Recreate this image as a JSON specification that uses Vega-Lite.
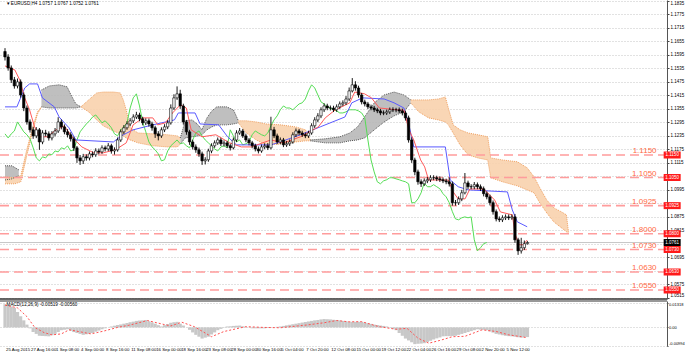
{
"$schema":"https://vega.github.io/schema/vega-lite/v6.json",
"autosize":{"type":"none"},
"padding":{"left":0,"top":0,"right":18,"bottom":11},
"background":"#ffffff",
"width":667,"height":346,
"resolve":{"scale":{"y":"independent"},"axis":{"y":"independent"}},
"config":{
 "view":{"stroke":null},
 "axis":{"labelFont":"Liberation Sans","labelFontSize":4.5,"labelColor":"#000000","title":null,"gridColor":"#c4c4c4","gridDash":[1,2],"gridWidth":1,"domainColor":"#444444","tickColor":"#444444","tickSize":2,"labelPadding":1,"labelOverlap":false,"labelBound":false}
},
"datasets":{
"bars":[
{"b":0,"o":1.161,"h":1.1625,"l":1.157,"c":1.1586,"g":1.1244,"m":0.0125},
{"b":2,"o":1.1586,"h":1.1598,"l":1.1525,"c":1.1537,"g":1.1226,"m":0.0118},
{"b":4,"o":1.1537,"h":1.1548,"l":1.147,"c":1.1484,"g":1.1244,"m":0.0112},
{"b":6,"o":1.1484,"h":1.1497,"l":1.1445,"c":1.1457,"g":1.1257,"m":0.0105},
{"b":8,"o":1.1457,"h":1.149,"l":1.1446,"c":1.1475,"g":1.1297,"m":0.0083},
{"b":10,"o":1.1475,"h":1.1486,"l":1.1405,"c":1.1417,"g":1.1275,"m":0.006},
{"b":12,"o":1.1417,"h":1.1428,"l":1.1345,"c":1.1359,"g":1.1253,"m":0.0038},
{"b":14,"o":1.1359,"h":1.137,"l":1.1285,"c":1.1297,"g":1.124,"m":0.0015},
{"b":16,"o":1.1297,"h":1.1308,"l":1.125,"c":1.1262,"g":1.1222,"m":-0.0005},
{"b":18,"o":1.1262,"h":1.1275,"l":1.1222,"c":1.1235,"g":1.1182,"m":-0.0025},
{"b":20,"o":1.1235,"h":1.1274,"l":1.1225,"c":1.1262,"g":1.1137,"m":-0.0035},
{"b":22,"o":1.1262,"h":1.127,"l":1.1173,"c":1.1208,"g":1.1124,"m":-0.0045},
{"b":24,"o":1.1208,"h":1.126,"l":1.1198,"c":1.1248,"g":1.1142,"m":-0.0046},
{"b":26,"o":1.1248,"h":1.1262,"l":1.1232,"c":1.1244,"g":1.1137,"m":-0.0047},
{"b":28,"o":1.1244,"h":1.1255,"l":1.1214,"c":1.1226,"g":1.1155,"m":-0.0048},
{"b":30,"o":1.1226,"h":1.1256,"l":1.1215,"c":1.1244,"g":1.1151,"m":-0.0042},
{"b":32,"o":1.1244,"h":1.127,"l":1.1233,"c":1.1257,"g":1.1168,"m":-0.0035},
{"b":34,"o":1.1257,"h":1.1318,"l":1.1248,"c":1.1297,"g":1.1164,"m":-0.0025},
{"b":36,"o":1.1297,"h":1.1308,"l":1.1264,"c":1.1275,"g":1.1182,"m":-0.0015},
{"b":38,"o":1.1275,"h":1.1286,"l":1.1242,"c":1.1253,"g":1.1177,"m":-0.0012},
{"b":40,"o":1.1253,"h":1.1265,"l":1.1228,"c":1.124,"g":1.1191,"m":-0.001},
{"b":42,"o":1.124,"h":1.1251,"l":1.121,"c":1.1222,"g":1.1168,"m":-0.0018},
{"b":44,"o":1.1222,"h":1.1232,"l":1.1168,"c":1.1182,"g":1.1173,"m":-0.0025},
{"b":46,"o":1.1182,"h":1.119,"l":1.1115,"c":1.1137,"g":1.1217,"m":-0.003},
{"b":48,"o":1.1137,"h":1.115,"l":1.1106,"c":1.1124,"g":1.1253,"m":-0.0035},
{"b":50,"o":1.1124,"h":1.1155,"l":1.111,"c":1.1142,"g":1.1271,"m":-0.004},
{"b":52,"o":1.1142,"h":1.1153,"l":1.1125,"c":1.1137,"g":1.1288,"m":-0.0037},
{"b":54,"o":1.1137,"h":1.1166,"l":1.1126,"c":1.1155,"g":1.1302,"m":-0.0033},
{"b":56,"o":1.1155,"h":1.1166,"l":1.114,"c":1.1151,"g":1.1319,"m":-0.003},
{"b":58,"o":1.1151,"h":1.118,"l":1.1142,"c":1.1168,"g":1.1328,"m":-0.0023},
{"b":60,"o":1.1168,"h":1.1179,"l":1.1153,"c":1.1164,"g":1.1311,"m":-0.0017},
{"b":62,"o":1.1164,"h":1.1193,"l":1.1155,"c":1.1182,"g":1.1293,"m":-0.001},
{"b":64,"o":1.1182,"h":1.1192,"l":1.1166,"c":1.1177,"g":1.1302,"m":-0.0005},
{"b":66,"o":1.1177,"h":1.1203,"l":1.1167,"c":1.1191,"g":1.1288,"m":0},
{"b":68,"o":1.1191,"h":1.12,"l":1.1156,"c":1.1168,"g":1.1271,"m":0.0005},
{"b":70,"o":1.1168,"h":1.1184,"l":1.1152,"c":1.1173,"g":1.1244,"m":0.0009},
{"b":72,"o":1.1173,"h":1.1228,"l":1.1165,"c":1.1217,"g":1.1235,"m":0.0013},
{"b":74,"o":1.1217,"h":1.1264,"l":1.1208,"c":1.1253,"g":1.1262,"m":0.0016},
{"b":76,"o":1.1253,"h":1.1283,"l":1.1243,"c":1.1271,"g":1.1275,"m":0.002},
{"b":78,"o":1.1271,"h":1.13,"l":1.1262,"c":1.1288,"g":1.1293,"m":0.0024},
{"b":80,"o":1.1288,"h":1.1314,"l":1.1278,"c":1.1302,"g":1.1359,"m":0.0028},
{"b":82,"o":1.1302,"h":1.1331,"l":1.1292,"c":1.1319,"g":1.1404,"m":0.0031},
{"b":84,"o":1.1319,"h":1.1342,"l":1.131,"c":1.1328,"g":1.1422,"m":0.0035},
{"b":86,"o":1.1328,"h":1.1338,"l":1.13,"c":1.1311,"g":1.1368,"m":0.0037},
{"b":88,"o":1.1311,"h":1.132,"l":1.1282,"c":1.1293,"g":1.1297,"m":0.0038},
{"b":90,"o":1.1293,"h":1.1313,"l":1.1283,"c":1.1302,"g":1.1253,"m":0.004},
{"b":92,"o":1.1302,"h":1.1312,"l":1.1276,"c":1.1288,"g":1.1208,"m":0.0033},
{"b":94,"o":1.1288,"h":1.1298,"l":1.1258,"c":1.1271,"g":1.1186,"m":0.0027},
{"b":96,"o":1.1271,"h":1.128,"l":1.1226,"c":1.1244,"g":1.1173,"m":0.002},
{"b":98,"o":1.1244,"h":1.1256,"l":1.1215,"c":1.1235,"g":1.1155,"m":0.0012},
{"b":100,"o":1.1235,"h":1.1273,"l":1.1226,"c":1.1262,"g":1.1124,"m":0.0005},
{"b":102,"o":1.1262,"h":1.1287,"l":1.1252,"c":1.1275,"g":1.1129,"m":0.0012},
{"b":104,"o":1.1275,"h":1.1305,"l":1.1265,"c":1.1293,"g":1.1168,"m":0.0018},
{"b":106,"o":1.1293,"h":1.1375,"l":1.1285,"c":1.1359,"g":1.1191,"m":0.0025},
{"b":108,"o":1.1359,"h":1.142,"l":1.135,"c":1.1404,"g":1.1204,"m":0.0028},
{"b":110,"o":1.1404,"h":1.1455,"l":1.1395,"c":1.1422,"g":1.1217,"m":0.003},
{"b":112,"o":1.1422,"h":1.144,"l":1.1355,"c":1.1368,"g":1.12,"m":0.002},
{"b":114,"o":1.1368,"h":1.1378,"l":1.1285,"c":1.1297,"g":1.1204,"m":0.001},
{"b":116,"o":1.1297,"h":1.1306,"l":1.124,"c":1.1253,"g":1.1191,"m":0},
{"b":118,"o":1.1253,"h":1.1262,"l":1.1195,"c":1.1208,"g":1.1182,"m":-0.0013},
{"b":120,"o":1.1208,"h":1.1218,"l":1.1175,"c":1.1186,"g":1.1217,"m":-0.0027},
{"b":122,"o":1.1186,"h":1.1197,"l":1.116,"c":1.1173,"g":1.1248,"m":-0.004},
{"b":124,"o":1.1173,"h":1.1183,"l":1.1142,"c":1.1155,"g":1.1257,"m":-0.005},
{"b":126,"o":1.1155,"h":1.1165,"l":1.1106,"c":1.1124,"g":1.1235,"m":-0.006},
{"b":128,"o":1.1124,"h":1.114,"l":1.1108,"c":1.1129,"g":1.1217,"m":-0.0055},
{"b":130,"o":1.1129,"h":1.1178,"l":1.112,"c":1.1168,"g":1.1204,"m":-0.005},
{"b":132,"o":1.1168,"h":1.1202,"l":1.1158,"c":1.1191,"g":1.1191,"m":-0.0038},
{"b":134,"o":1.1191,"h":1.1215,"l":1.1182,"c":1.1204,"g":1.1177,"m":-0.0027},
{"b":136,"o":1.1204,"h":1.1228,"l":1.1195,"c":1.1217,"g":1.1168,"m":-0.0015},
{"b":138,"o":1.1217,"h":1.1226,"l":1.119,"c":1.12,"g":1.1186,"m":-0.0008},
{"b":140,"o":1.12,"h":1.1215,"l":1.1188,"c":1.1204,"g":1.1191,"m":-0.0002},
{"b":142,"o":1.1204,"h":1.1213,"l":1.1181,"c":1.1191,"g":1.1182,"m":0.0005},
{"b":144,"o":1.1191,"h":1.12,"l":1.117,"c":1.1182,"g":1.1262,"m":0.0006},
{"b":146,"o":1.1182,"h":1.1228,"l":1.1175,"c":1.1217,"g":1.1235,"m":0.0008},
{"b":148,"o":1.1217,"h":1.126,"l":1.1208,"c":1.1248,"g":1.1208,"m":0.0009},
{"b":150,"o":1.1248,"h":1.127,"l":1.124,"c":1.1257,"g":1.1217,"m":0.001},
{"b":152,"o":1.1257,"h":1.1266,"l":1.1226,"c":1.1235,"g":1.1195,"m":0.0006},
{"b":154,"o":1.1235,"h":1.1245,"l":1.1207,"c":1.1217,"g":1.12,"m":0.0002},
{"b":156,"o":1.1217,"h":1.1226,"l":1.1193,"c":1.1204,"g":1.1208,"m":-0.0001},
{"b":158,"o":1.1204,"h":1.1213,"l":1.118,"c":1.1191,"g":1.124,"m":-0.0005},
{"b":160,"o":1.1191,"h":1.12,"l":1.1166,"c":1.1177,"g":1.1257,"m":-0.0005},
{"b":162,"o":1.1177,"h":1.1188,"l":1.1157,"c":1.1168,"g":1.1248,"m":-0.0005},
{"b":164,"o":1.1168,"h":1.1197,"l":1.116,"c":1.1186,"g":1.124,"m":-0.0005},
{"b":166,"o":1.1186,"h":1.1202,"l":1.1176,"c":1.1191,"g":1.1235,"m":-0.0005},
{"b":168,"o":1.1191,"h":1.1203,"l":1.1172,"c":1.1182,"g":1.1248,"m":-0.0003},
{"b":170,"o":1.1182,"h":1.132,"l":1.1175,"c":1.1262,"g":1.128,"m":-0.0001},
{"b":172,"o":1.1262,"h":1.1275,"l":1.1225,"c":1.1235,"g":1.1306,"m":0.0001},
{"b":174,"o":1.1235,"h":1.1245,"l":1.1198,"c":1.1208,"g":1.1324,"m":0.0003},
{"b":176,"o":1.1208,"h":1.1228,"l":1.1198,"c":1.1217,"g":1.1351,"m":0.0005},
{"b":178,"o":1.1217,"h":1.1226,"l":1.1185,"c":1.1195,"g":1.1368,"m":0.0008},
{"b":180,"o":1.1195,"h":1.1212,"l":1.1186,"c":1.12,"g":1.1359,"m":0.0011},
{"b":182,"o":1.12,"h":1.1219,"l":1.119,"c":1.1208,"g":1.1359,"m":0.0014},
{"b":184,"o":1.1208,"h":1.1251,"l":1.12,"c":1.124,"g":1.1351,"m":0.0017},
{"b":186,"o":1.124,"h":1.1268,"l":1.123,"c":1.1257,"g":1.1364,"m":0.002},
{"b":188,"o":1.1257,"h":1.1266,"l":1.1238,"c":1.1248,"g":1.1377,"m":0.0023},
{"b":190,"o":1.1248,"h":1.1258,"l":1.123,"c":1.124,"g":1.1382,"m":0.0026},
{"b":192,"o":1.124,"h":1.125,"l":1.1225,"c":1.1235,"g":1.1399,"m":0.0029},
{"b":194,"o":1.1235,"h":1.1258,"l":1.1226,"c":1.1248,"g":1.1435,"m":0.0032},
{"b":196,"o":1.1248,"h":1.1291,"l":1.124,"c":1.128,"g":1.1462,"m":0.0035},
{"b":198,"o":1.128,"h":1.1318,"l":1.127,"c":1.1306,"g":1.1448,"m":0.0038},
{"b":200,"o":1.1306,"h":1.1336,"l":1.1296,"c":1.1324,"g":1.1417,"m":0.004},
{"b":202,"o":1.1324,"h":1.1362,"l":1.1314,"c":1.1351,"g":1.1386,"m":0.0043},
{"b":204,"o":1.1351,"h":1.138,"l":1.1341,"c":1.1368,"g":1.1377,"m":0.0045},
{"b":206,"o":1.1368,"h":1.1378,"l":1.1349,"c":1.1359,"g":1.1364,"m":0.0044},
{"b":208,"o":1.1359,"h":1.137,"l":1.1348,"c":1.1359,"g":1.1359,"m":0.0043},
{"b":210,"o":1.1359,"h":1.1369,"l":1.1341,"c":1.1351,"g":1.1351,"m":0.0041},
{"b":212,"o":1.1351,"h":1.1375,"l":1.1342,"c":1.1364,"g":1.1346,"m":0.004},
{"b":214,"o":1.1364,"h":1.1388,"l":1.1355,"c":1.1377,"g":1.1337,"m":0.0038},
{"b":216,"o":1.1377,"h":1.1393,"l":1.1367,"c":1.1382,"g":1.1337,"m":0.0035},
{"b":218,"o":1.1382,"h":1.1412,"l":1.1372,"c":1.1399,"g":1.1342,"m":0.0033},
{"b":220,"o":1.1399,"h":1.145,"l":1.139,"c":1.1435,"g":1.1351,"m":0.003},
{"b":222,"o":1.1435,"h":1.1492,"l":1.1428,"c":1.1462,"g":1.1351,"m":0.003},
{"b":224,"o":1.1462,"h":1.1478,"l":1.1436,"c":1.1448,"g":1.1351,"m":0.003},
{"b":226,"o":1.1448,"h":1.1458,"l":1.1405,"c":1.1417,"g":1.1346,"m":0.003},
{"b":228,"o":1.1417,"h":1.1426,"l":1.1375,"c":1.1386,"g":1.1337,"m":0.003},
{"b":230,"o":1.1386,"h":1.1396,"l":1.1366,"c":1.1377,"g":1.1315,"m":0.0026},
{"b":232,"o":1.1377,"h":1.1386,"l":1.1354,"c":1.1364,"g":1.1217,"m":0.0023},
{"b":234,"o":1.1364,"h":1.1374,"l":1.1349,"c":1.1359,"g":1.1128,"m":0.0019},
{"b":236,"o":1.1359,"h":1.1368,"l":1.1341,"c":1.1351,"g":1.1075,"m":0.0015},
{"b":238,"o":1.1351,"h":1.136,"l":1.1336,"c":1.1346,"g":1.1031,"m":0.0013},
{"b":240,"o":1.1346,"h":1.1355,"l":1.1327,"c":1.1337,"g":1.1022,"m":0.001},
{"b":242,"o":1.1337,"h":1.1348,"l":1.1327,"c":1.1337,"g":1.1035,"m":0.0008},
{"b":244,"o":1.1337,"h":1.1352,"l":1.1328,"c":1.1342,"g":1.104,"m":0.0005},
{"b":246,"o":1.1342,"h":1.1361,"l":1.1332,"c":1.1351,"g":1.1049,"m":-0.0002},
{"b":248,"o":1.1351,"h":1.1362,"l":1.1341,"c":1.1351,"g":1.1049,"m":-0.0008},
{"b":250,"o":1.1351,"h":1.136,"l":1.134,"c":1.1351,"g":1.1044,"m":-0.0015},
{"b":252,"o":1.1351,"h":1.1361,"l":1.1336,"c":1.1346,"g":1.104,"m":-0.003},
{"b":254,"o":1.1346,"h":1.1356,"l":1.1326,"c":1.1337,"g":1.1035,"m":-0.0045},
{"b":256,"o":1.1337,"h":1.1347,"l":1.1303,"c":1.1315,"g":1.1031,"m":-0.006},
{"b":258,"o":1.1315,"h":1.1325,"l":1.1205,"c":1.1217,"g":1.1022,"m":-0.007},
{"b":260,"o":1.1217,"h":1.1228,"l":1.1115,"c":1.1128,"g":1.0938,"m":-0.008},
{"b":262,"o":1.1128,"h":1.1138,"l":1.106,"c":1.1075,"g":1.0938,"m":-0.009},
{"b":264,"o":1.1075,"h":1.1085,"l":1.1018,"c":1.1031,"g":1.0955,"m":-0.0088},
{"b":266,"o":1.1031,"h":1.1042,"l":1.1008,"c":1.1022,"g":1.0982,"m":-0.0087},
{"b":268,"o":1.1022,"h":1.1046,"l":1.1012,"c":1.1035,"g":1.1026,"m":-0.0085},
{"b":270,"o":1.1035,"h":1.1052,"l":1.1025,"c":1.104,"g":1.1009,"m":-0.0078},
{"b":272,"o":1.104,"h":1.106,"l":1.103,"c":1.1049,"g":1.1009,"m":-0.0072},
{"b":274,"o":1.1049,"h":1.106,"l":1.1038,"c":1.1049,"g":1.1018,"m":-0.0065},
{"b":276,"o":1.1049,"h":1.1058,"l":1.1034,"c":1.1044,"g":1.1009,"m":-0.0059},
{"b":278,"o":1.1044,"h":1.1055,"l":1.103,"c":1.104,"g":1.1,"m":-0.0054},
{"b":280,"o":1.104,"h":1.105,"l":1.1025,"c":1.1035,"g":1.0978,"m":-0.0048},
{"b":282,"o":1.1035,"h":1.1045,"l":1.102,"c":1.1031,"g":1.0964,"m":-0.0047},
{"b":284,"o":1.1031,"h":1.105,"l":1.101,"c":1.1022,"g":1.0938,"m":-0.0047},
{"b":286,"o":1.1022,"h":1.1032,"l":1.0925,"c":1.0938,"g":1.0898,"m":-0.0046},
{"b":288,"o":1.0938,"h":1.095,"l":1.0925,"c":1.0938,"g":1.0866,"m":-0.0045},
{"b":290,"o":1.0938,"h":1.0966,"l":1.0928,"c":1.0955,"g":1.0862,"m":-0.004},
{"b":292,"o":1.0955,"h":1.0995,"l":1.0945,"c":1.0982,"g":1.0871,"m":-0.0035},
{"b":294,"o":1.0982,"h":1.107,"l":1.0975,"c":1.1026,"g":1.0875,"m":-0.003},
{"b":296,"o":1.1026,"h":1.1036,"l":1.0998,"c":1.1009,"g":1.0871,"m":-0.0025},
{"b":298,"o":1.1009,"h":1.102,"l":1.0998,"c":1.1009,"g":1.0875,"m":-0.002},
{"b":300,"o":1.1009,"h":1.103,"l":1.0998,"c":1.1018,"g":1.0773,"m":-0.0015},
{"b":302,"o":1.1018,"h":1.1028,"l":1.0998,"c":1.1009,"g":1.0724,"m":-0.001},
{"b":304,"o":1.1009,"h":1.1019,"l":1.099,"c":1.1,"g":1.0738,"m":-0.0012},
{"b":306,"o":1.1,"h":1.101,"l":1.0966,"c":1.0978,"g":1.0756,"m":-0.0013},
{"b":308,"o":1.0978,"h":1.0988,"l":1.0953,"c":1.0964,"g":1.0761,"m":-0.0015},
{"b":310,"o":1.0964,"h":1.0974,"l":1.0926,"c":1.0938,"m":-0.0022},
{"b":312,"o":1.0938,"h":1.0948,"l":1.0885,"c":1.0898,"m":-0.0028},
{"b":314,"o":1.0898,"h":1.0908,"l":1.0855,"c":1.0866,"m":-0.0035},
{"b":316,"o":1.0866,"h":1.0877,"l":1.0852,"c":1.0862,"m":-0.0038},
{"b":318,"o":1.0862,"h":1.0882,"l":1.0852,"c":1.0871,"m":-0.0042},
{"b":320,"o":1.0871,"h":1.0886,"l":1.0861,"c":1.0875,"m":-0.0045},
{"b":322,"o":1.0875,"h":1.0886,"l":1.0861,"c":1.0871,"m":-0.0047},
{"b":324,"o":1.0871,"h":1.0886,"l":1.0862,"c":1.0875,"m":-0.0048},
{"b":326,"o":1.0875,"h":1.0888,"l":1.076,"c":1.0773,"m":-0.005},
{"b":328,"o":1.0773,"h":1.0782,"l":1.0706,"c":1.0724,"m":-0.0053},
{"b":330,"o":1.0724,"h":1.0782,"l":1.0712,"c":1.0738,"m":-0.0055},
{"b":332,"o":1.0738,"h":1.077,"l":1.0728,"c":1.0756,"m":-0.0053},
{"b":334,"o":1.0756,"h":1.0767,"l":1.0752,"c":1.0761,"m":-0.0052}
],
"tk":[
{"b":0,"v":1.1546},{"b":6.3,"v":1.1528},{"b":9.4,"v":1.1484},{"b":12.6,"v":1.1404},{"b":15.7,"v":1.1351},{"b":18.9,"v":1.1275},{"b":22,"v":1.1231},{"b":27.1,"v":1.1231},{"b":32.7,"v":1.1262},{"b":37.8,"v":1.1279},{"b":42.8,"v":1.1231},{"b":49.1,"v":1.1186},{"b":56.7,"v":1.116},{"b":63,"v":1.116},{"b":70.5,"v":1.1173},{"b":77.5,"v":1.1204},{"b":81.9,"v":1.1284},{"b":88.2,"v":1.1315},{"b":94.5,"v":1.1315},{"b":97.6,"v":1.1284},{"b":102.6,"v":1.1293},{"b":107.1,"v":1.1337},{"b":112.1,"v":1.1373},{"b":115.9,"v":1.1359},{"b":119,"v":1.1262},{"b":125.9,"v":1.1231},{"b":134.8,"v":1.124},{"b":143.6,"v":1.1204},{"b":151.1,"v":1.1186},{"b":157.4,"v":1.1186},{"b":170,"v":1.1217},{"b":178.2,"v":1.1204},{"b":188.9,"v":1.1231},{"b":200.3,"v":1.1275},{"b":204.7,"v":1.1315},{"b":211,"v":1.135},{"b":220.4,"v":1.1382},{"b":223.6,"v":1.143},{"b":229.8,"v":1.1422},{"b":234.3,"v":1.1404},{"b":239.3,"v":1.1359},{"b":251.9,"v":1.135},{"b":255,"v":1.135},{"b":258.2,"v":1.1262},{"b":261.3,"v":1.1217},{"b":265.7,"v":1.1128},{"b":268.3,"v":1.1097},{"b":270.8,"v":1.1039},{"b":283.4,"v":1.1039},{"b":286.5,"v":1.0986},{"b":289.7,"v":1.0955},{"b":294.1,"v":1.0955},{"b":297.2,"v":1.0999},{"b":306,"v":1.0999},{"b":309.8,"v":1.0973},{"b":313,"v":1.095},{"b":316.7,"v":1.0897},{"b":324.3,"v":1.0884},{"b":326.2,"v":1.0795},{"b":328.7,"v":1.0751},{"b":331.2,"v":1.0751},{"b":333.8,"v":1.0772}
],
"kj":[
{"b":0,"v":1.1364},{"b":7.6,"v":1.1364},{"b":12.6,"v":1.1448},{"b":15.7,"v":1.1466},{"b":20.8,"v":1.1466},{"b":23.9,"v":1.1404},{"b":31.5,"v":1.1364},{"b":34.6,"v":1.1319},{"b":40.9,"v":1.1271},{"b":45.3,"v":1.1217},{"b":69.3,"v":1.1208},{"b":74.3,"v":1.1235},{"b":81.9,"v":1.1262},{"b":94.5,"v":1.1284},{"b":108.3,"v":1.1306},{"b":110.8,"v":1.1337},{"b":121.5,"v":1.1337},{"b":124.7,"v":1.1288},{"b":136.6,"v":1.1284},{"b":142.3,"v":1.1231},{"b":148,"v":1.1195},{"b":170,"v":1.1195},{"b":179.5,"v":1.1217},{"b":188.9,"v":1.124},{"b":201.5,"v":1.1275},{"b":217.3,"v":1.1319},{"b":221.7,"v":1.1382},{"b":228.6,"v":1.1404},{"b":242.4,"v":1.1399},{"b":248.7,"v":1.1382},{"b":255,"v":1.1359},{"b":258.2,"v":1.1284},{"b":261.3,"v":1.1186},{"b":281.5,"v":1.1186},{"b":284.6,"v":1.1039},{"b":289.7,"v":1.1009},{"b":296,"v":1.0995},{"b":321.2,"v":1.0986},{"b":324.3,"v":1.0906},{"b":327.5,"v":1.0853},{"b":333.8,"v":1.0831}
],
"sg":[
{"b":0,"s":0.012},{"b":8,"s":0.0105},{"b":14,"s":0.0058},{"b":19,"s":0},{"b":25,"s":-0.0028},{"b":30,"s":-0.004},{"b":36,"s":-0.0035},{"b":41,"s":-0.0013},{"b":47,"s":-0.0022},{"b":55,"s":-0.0035},{"b":63,"s":-0.002},{"b":72,"s":0},{"b":80,"s":0.0013},{"b":91,"s":0.0037},{"b":102,"s":0.0015},{"b":106,"s":0.0008},{"b":113,"s":0.0028},{"b":121,"s":0.0004},{"b":132,"s":-0.005},{"b":140,"s":-0.0022},{"b":154,"s":0.0004},{"b":165,"s":0},{"b":176,"s":-0.0002},{"b":193,"s":0.0013},{"b":204,"s":0.0025},{"b":212,"s":0.0037},{"b":220,"s":0.003},{"b":228,"s":0.0031},{"b":239,"s":0.0004},{"b":250,"s":-0.001},{"b":257,"s":-0.0005},{"b":264,"s":-0.0058},{"b":271,"s":-0.0085},{"b":278,"s":-0.007},{"b":286,"s":-0.005},{"b":294,"s":-0.0048},{"b":305,"s":-0.0013},{"b":314,"s":-0.0022},{"b":322,"s":-0.004},{"b":330,"s":-0.005},{"b":334,"s":-0.0056}
],
"cloud":[
{"b":0,"t":1.1102,"u":1.1039,"s":1,"k":"k"},{"b":4.4,"t":1.1102,"u":1.1044,"s":1,"k":"k"},{"b":8.8,"t":1.1084,"u":1.1058,"s":1,"k":"k"},
{"b":0,"t":1.1053,"u":1.1022,"s":2,"k":"o"},{"b":6.3,"t":1.1049,"u":1.1022,"s":2,"k":"o"},{"b":10.1,"t":1.1058,"u":1.1031,"s":2,"k":"o"},{"b":13.9,"t":1.1173,"u":1.1146,"s":2,"k":"o"},{"b":17.6,"t":1.1271,"u":1.1253,"s":2,"k":"o"},{"b":20.8,"t":1.1342,"u":1.1333,"s":2,"k":"o"},{"b":23.3,"t":1.1364,"u":1.1364,"s":2,"k":"o"},
{"b":23.3,"t":1.1439,"u":1.1364,"s":3,"k":"k"},{"b":28.3,"t":1.1457,"u":1.1359,"s":3,"k":"k"},{"b":34.6,"t":1.1462,"u":1.1359,"s":3,"k":"k"},{"b":39.7,"t":1.1453,"u":1.1359,"s":3,"k":"k"},{"b":42.2,"t":1.1417,"u":1.1359,"s":3,"k":"k"},{"b":45.3,"t":1.1377,"u":1.1359,"s":3,"k":"k"},{"b":48.5,"t":1.1364,"u":1.1364,"s":3,"k":"k"},
{"b":48.5,"t":1.1364,"u":1.1364,"s":4,"k":"o"},{"b":53.5,"t":1.1395,"u":1.1342,"s":4,"k":"o"},{"b":58.6,"t":1.1426,"u":1.1306,"s":4,"k":"o"},{"b":63,"t":1.143,"u":1.1279,"s":4,"k":"o"},{"b":69.3,"t":1.143,"u":1.1257,"s":4,"k":"o"},{"b":73.7,"t":1.1426,"u":1.1244,"s":4,"k":"o"},{"b":75.6,"t":1.1395,"u":1.1235,"s":4,"k":"o"},{"b":77.5,"t":1.135,"u":1.1226,"s":4,"k":"o"},{"b":80,"t":1.1271,"u":1.1217,"s":4,"k":"o"},{"b":85,"t":1.1248,"u":1.1204,"s":4,"k":"o"},{"b":94.5,"t":1.1244,"u":1.1191,"s":4,"k":"o"},{"b":103.9,"t":1.124,"u":1.1186,"s":4,"k":"o"},{"b":110.2,"t":1.1235,"u":1.1186,"s":4,"k":"o"},{"b":112.1,"t":1.1226,"u":1.1199,"s":4,"k":"o"},
{"b":112.1,"t":1.1226,"u":1.1199,"s":5,"k":"k"},{"b":115.2,"t":1.1302,"u":1.1226,"s":5,"k":"k"},{"b":119.6,"t":1.1306,"u":1.1231,"s":5,"k":"k"},{"b":123.4,"t":1.1284,"u":1.1235,"s":5,"k":"k"},{"b":125.9,"t":1.1262,"u":1.124,"s":5,"k":"k"},{"b":129.1,"t":1.1315,"u":1.1262,"s":5,"k":"k"},{"b":132.2,"t":1.1346,"u":1.1275,"s":5,"k":"k"},{"b":135.4,"t":1.1364,"u":1.1284,"s":5,"k":"k"},{"b":141.7,"t":1.1364,"u":1.1284,"s":5,"k":"k"},{"b":146.1,"t":1.135,"u":1.1288,"s":5,"k":"k"},{"b":149.2,"t":1.1302,"u":1.1293,"s":5,"k":"k"},
{"b":149.2,"t":1.1302,"u":1.1293,"s":6,"k":"o"},{"b":154.3,"t":1.1302,"u":1.1248,"s":6,"k":"o"},{"b":160.6,"t":1.1297,"u":1.1217,"s":6,"k":"o"},{"b":166.9,"t":1.1288,"u":1.1195,"s":6,"k":"o"},{"b":176.3,"t":1.1284,"u":1.1199,"s":6,"k":"o"},{"b":185.8,"t":1.1275,"u":1.1208,"s":6,"k":"o"},{"b":192.1,"t":1.1262,"u":1.1213,"s":6,"k":"o"},{"b":195.2,"t":1.1217,"u":1.1213,"s":6,"k":"o"},
{"b":195.2,"t":1.1217,"u":1.1213,"s":7,"k":"k"},{"b":204.7,"t":1.1222,"u":1.1204,"s":7,"k":"k"},{"b":214.1,"t":1.1231,"u":1.1204,"s":7,"k":"k"},{"b":220.4,"t":1.1248,"u":1.1213,"s":7,"k":"k"},{"b":225.4,"t":1.1275,"u":1.1217,"s":7,"k":"k"},{"b":229.8,"t":1.1319,"u":1.1226,"s":7,"k":"k"},{"b":236.1,"t":1.1382,"u":1.1262,"s":7,"k":"k"},{"b":242.4,"t":1.1417,"u":1.1297,"s":7,"k":"k"},{"b":248.7,"t":1.143,"u":1.1324,"s":7,"k":"k"},{"b":255,"t":1.1417,"u":1.1342,"s":7,"k":"k"},{"b":259.4,"t":1.1395,"u":1.1382,"s":7,"k":"k"},
{"b":259.4,"t":1.1395,"u":1.1382,"s":8,"k":"o"},{"b":264.5,"t":1.1395,"u":1.1342,"s":8,"k":"o"},{"b":270.8,"t":1.1395,"u":1.1315,"s":8,"k":"o"},{"b":277.1,"t":1.1399,"u":1.1306,"s":8,"k":"o"},{"b":281.5,"t":1.1408,"u":1.1297,"s":8,"k":"o"},{"b":283.4,"t":1.1359,"u":1.1284,"s":8,"k":"o"},{"b":286.5,"t":1.1284,"u":1.1248,"s":8,"k":"o"},{"b":290.9,"t":1.1262,"u":1.1195,"s":8,"k":"o"},{"b":296,"t":1.1248,"u":1.1151,"s":8,"k":"o"},{"b":302.3,"t":1.124,"u":1.1137,"s":8,"k":"o"},{"b":308.6,"t":1.1231,"u":1.1128,"s":8,"k":"o"},{"b":310.5,"t":1.1137,"u":1.1049,"s":8,"k":"o"},{"b":318,"t":1.1128,"u":1.1031,"s":8,"k":"o"},{"b":327.5,"t":1.112,"u":1.1013,"s":8,"k":"o"},{"b":333.8,"t":1.1093,"u":1.0995,"s":8,"k":"o"},{"b":338.2,"t":1.1053,"u":1.0982,"s":8,"k":"o"},{"b":341.9,"t":1.1004,"u":1.0937,"s":8,"k":"o"},{"b":346.3,"t":1.095,"u":1.0893,"s":8,"k":"o"},{"b":350.8,"t":1.0915,"u":1.0853,"s":8,"k":"o"},{"b":355.8,"t":1.0897,"u":1.0826,"s":8,"k":"o"},{"b":358.9,"t":1.0884,"u":1.0809,"s":8,"k":"o"},{"b":360.2,"t":1.0809,"u":1.0804,"s":8,"k":"o"}
],
"lv":[
{"p":1.115,"t":"1.1150","a":"1.1150"},
{"p":1.105,"t":"1.1050","a":"1.1050"},
{"p":1.0925,"t":"1.0925","a":"1.0925"},
{"p":1.08,"t":"1.8000","a":"1.0800"},
{"p":1.073,"t":"1.0730","a":"1.0730"},
{"p":1.063,"t":"1.0630","a":"1.0630"},
{"p":1.055,"t":"1.0550","a":"1.0550"}
],
"cur":[{"p":1.0761,"a":"1.0761"}],
"xl":[
{"b":0,"t":"25 Aug 2015"},{"b":16,"t":"27 Aug 16:00"},{"b":32,"t":"1 Sep 08:00"},{"b":48,"t":"4 Sep 00:00"},{"b":64,"t":"8 Sep 16:00"},{"b":80,"t":"11 Sep 08:00"},{"b":96,"t":"16 Sep 00:00"},{"b":112,"t":"18 Sep 16:00"},{"b":128,"t":"23 Sep 08:00"},{"b":144,"t":"28 Sep 00:00"},{"b":160,"t":"30 Sep 16:00"},{"b":176,"t":"5 Oct 04:00"},{"b":192,"t":"7 Oct 20:00"},{"b":208,"t":"12 Oct 08:00"},{"b":224,"t":"15 Oct 00:00"},{"b":240,"t":"19 Oct 12:00"},{"b":256,"t":"22 Oct 04:00"},{"b":272,"t":"26 Oct 16:00"},{"b":288,"t":"29 Oct 08:00"},{"b":304,"t":"2 Nov 20:00"},{"b":320,"t":"5 Nov 12:00"}
],
"ttl":[{"t":"▾ EURUSD,H4  1.0757 1.0767 1.0752 1.0761"}],
"mt":[{"t":"MACD(12,26,9) -0.00519 -0.00560"}],
"frm":[{"f":1}]
},
"layer":[
  {"data":{"name":"cloud"},"mark":{"type":"area","opacity":0.9,"clip":true},
   "encoding":{
    "x":{"field":"b","type":"quantitative","scale":{"domain":[0,420],"nice":false,"zero":false},
     "axis":{"orient":"bottom","values":[0,8,16,24,32,40,48,56,64,72,80,88,96,104,112,120,128,136,144,152,160,168,176,184,192,200,208,216,224,232,240,248,256,264,272,280,288,296,304,312,320,328,336,344,352,360,368,376,384,392,400,408,416],"grid":true,"ticks":true,"tickSize":2,"labels":false,"domain":true,"domainColor":"#333333","domainWidth":1.2}},
    "y":{"field":"t","type":"quantitative","stack":null,"scale":{"domain":[1.051,1.1839],"range":[299,0],"nice":false,"zero":false},
     "axis":{"orient":"right","values":[1.0515,1.0575,1.0635,1.0695,1.0755,1.0815,1.0875,1.0935,1.0995,1.1055,1.1115,1.1175,1.1235,1.1295,1.1355,1.1415,1.1475,1.1535,1.1595,1.1655,1.1715,1.1775,1.1835],"grid":true,"labelFlush":3,"domain":true,"domainColor":"#555555",
      "labelExpr":"(abs(datum.value - 1.1055) < 0.0001 || abs(datum.value - 1.0935) < 0.0001 || abs(datum.value - 1.0755) < 0.0001 || abs(datum.value - 1.0635) < 0.0001) ? '' : format(datum.value, '.4f')"}},
    "y2":{"field":"u"},
    "detail":{"field":"s","type":"nominal"},
    "fill":{"field":"k","type":"nominal","scale":{"domain":["o","k"],"range":["#f8d2ad","#b8b8b8"]},"legend":null}
   }},
  {"data":{"name":"bars"},"mark":{"type":"bar","size":3.2,"color":"#c8c8c8","clip":true},
   "encoding":{
    "x":{"field":"b","type":"quantitative","axis":null},
    "y":{"field":"m","type":"quantitative","stack":null,"scale":{"domain":[-0.01,0.0142],"range":[346,301],"nice":false,"zero":false},
     "axis":{"orient":"right","values":[0.01318,0,-0.00994],"grid":true,"domain":true,"domainColor":"#555555","labelFlush":3,"labelFontSize":4,"tickSize":1,"labelPadding":0.5,
      "labelExpr":"datum.value > 0.01 ? '0.01318' : (datum.value < -0.005 ? '-0.00994' : '0.00')"}}}},
  {"data":{"name":"sg"},"mark":{"type":"line","color":"#ff5050","strokeWidth":1,"strokeDash":[2,2]},
   "encoding":{
    "x":{"field":"b","type":"quantitative","axis":null},
    "y":{"field":"s","type":"quantitative","scale":{"domain":[-0.01,0.0142],"range":[346,301],"nice":false,"zero":false},"axis":null}}},
  {"data":{"name":"mt"},"mark":{"type":"text","align":"left","baseline":"middle","fontSize":4.6,"font":"Liberation Sans","color":"#000000"},
   "encoding":{
    "x":{"datum":1,"type":"quantitative","axis":null},
    "y":{"datum":0.0122,"type":"quantitative","scale":{"domain":[-0.01,0.0142],"range":[346,301],"nice":false,"zero":false},"axis":null},
    "text":{"field":"t"}}},
  {"data":{"name":"xl"},"mark":{"type":"text","align":"left","baseline":"top","dx":1,"fontSize":4.3,"font":"Liberation Sans Narrow, Liberation Sans","color":"#000000"},
   "encoding":{
    "x":{"field":"b","type":"quantitative","axis":null},
    "y":{"datum":-0.0111,"type":"quantitative","scale":{"domain":[-0.01,0.0142],"range":[346,301],"nice":false,"zero":false},"axis":null},
    "text":{"field":"t"}}},
  {"data":{"name":"frm"},"mark":{"type":"rule","color":"#333333","strokeWidth":1.5},
   "encoding":{"y":{"datum":1.051,"type":"quantitative","scale":{"domain":[1.051,1.1839],"range":[299,0],"nice":false,"zero":false},"axis":null}}},
  {"data":{"name":"frm"},"mark":{"type":"rule","color":"#333333","strokeWidth":1.2},
   "encoding":{"y":{"datum":0.0142,"type":"quantitative","scale":{"domain":[-0.01,0.0142],"range":[346,301],"nice":false,"zero":false},"axis":null}}},
  {"data":{"name":"cloud"},"mark":{"type":"line","strokeWidth":1,"strokeDash":[1,1],"clip":true},
   "encoding":{
    "x":{"field":"b","type":"quantitative","axis":null},
    "y":{"field":"t","type":"quantitative","scale":{"domain":[1.051,1.1839],"range":[299,0],"nice":false,"zero":false},"axis":null},
    "detail":{"field":"s","type":"nominal"},
    "stroke":{"field":"k","type":"nominal","scale":{"domain":["o","k"],"range":["#f0a060","#555555"]},"legend":null}
   }},
  {"data":{"name":"cloud"},"mark":{"type":"line","strokeWidth":1,"strokeDash":[1,1],"clip":true},
   "encoding":{
    "x":{"field":"b","type":"quantitative","axis":null},
    "y":{"field":"u","type":"quantitative","scale":{"domain":[1.051,1.1839],"range":[299,0],"nice":false,"zero":false},"axis":null},
    "detail":{"field":"s","type":"nominal"},
    "stroke":{"field":"k","type":"nominal","scale":{"domain":["o","k"],"range":["#f0a060","#555555"]},"legend":null}
   }},
  {"data":{"name":"lv"},"mark":{"type":"rule","color":"#ff9c9c","strokeWidth":1.6,"strokeDash":[9,5]},
   "encoding":{"y":{"field":"p","type":"quantitative","scale":{"domain":[1.051,1.1839],"range":[299,0],"nice":false,"zero":false},"axis":null}}},
  {"data":{"name":"cur"},"mark":{"type":"rule","color":"#c8c8c8","strokeWidth":1},
   "encoding":{"y":{"field":"p","type":"quantitative","scale":{"domain":[1.051,1.1839],"range":[299,0],"nice":false,"zero":false},"axis":null}}},
  {"data":{"name":"bars"},"mark":{"type":"line","color":"#55dd55","strokeWidth":1,"clip":true},
   "encoding":{
    "x":{"field":"b","type":"quantitative","axis":null},
    "y":{"field":"g","type":"quantitative","scale":{"domain":[1.051,1.1839],"range":[299,0],"nice":false,"zero":false},"axis":null}}},
  {"data":{"name":"kj"},"mark":{"type":"line","color":"#5a5aff","strokeWidth":1,"clip":true},
   "encoding":{
    "x":{"field":"b","type":"quantitative","axis":null},
    "y":{"field":"v","type":"quantitative","scale":{"domain":[1.051,1.1839],"range":[299,0],"nice":false,"zero":false},"axis":null}}},
  {"data":{"name":"tk"},"mark":{"type":"line","color":"#ff5a5a","strokeWidth":1,"clip":true},
   "encoding":{
    "x":{"field":"b","type":"quantitative","axis":null},
    "y":{"field":"v","type":"quantitative","scale":{"domain":[1.051,1.1839],"range":[299,0],"nice":false,"zero":false},"axis":null}}},
  {"data":{"name":"bars"},"mark":{"type":"rule","color":"#000000","strokeWidth":0.9,"clip":true},
   "encoding":{
    "x":{"field":"b","type":"quantitative","axis":null},
    "y":{"field":"l","type":"quantitative","scale":{"domain":[1.051,1.1839],"range":[299,0],"nice":false,"zero":false},"axis":null},
    "y2":{"field":"h"}}},
  {"data":{"name":"bars"},"mark":{"type":"bar","size":2.4,"stroke":"#000000","strokeWidth":0.6,"clip":true},
   "encoding":{
    "x":{"field":"b","type":"quantitative","axis":null},
    "y":{"field":"o","type":"quantitative","scale":{"domain":[1.051,1.1839],"range":[299,0],"nice":false,"zero":false},"axis":null},
    "y2":{"field":"c"},
    "fill":{"condition":{"test":"datum.c >= datum.o","value":"#ffffff"},"value":"#000000"}}},
  {"data":{"name":"lv"},"mark":{"type":"text","align":"right","baseline":"alphabetic","dy":-2,"fontSize":8,"font":"Liberation Sans","color":"#ff6a45"},
   "encoding":{
    "x":{"datum":416.5,"type":"quantitative","axis":null},
    "y":{"field":"p","type":"quantitative","scale":{"domain":[1.051,1.1839],"range":[299,0],"nice":false,"zero":false},"axis":null},
    "text":{"field":"t"}}},
  {"data":{"name":"lv"},"mark":{"type":"tick","orient":"horizontal","thickness":7,"size":17,"color":"#ff1a1a","opacity":1},
   "encoding":{
    "x":{"datum":426.5,"type":"quantitative","axis":null},
    "y":{"field":"p","type":"quantitative","scale":{"domain":[1.051,1.1839],"range":[299,0],"nice":false,"zero":false},"axis":null}}},
  {"data":{"name":"lv"},"mark":{"type":"text","align":"center","baseline":"middle","fontSize":4.5,"font":"Liberation Sans","color":"#ffffff"},
   "encoding":{
    "x":{"datum":426.5,"type":"quantitative","axis":null},
    "y":{"field":"p","type":"quantitative","scale":{"domain":[1.051,1.1839],"range":[299,0],"nice":false,"zero":false},"axis":null},
    "text":{"field":"a"}}},
  {"data":{"name":"cur"},"mark":{"type":"tick","orient":"horizontal","thickness":7,"size":17,"color":"#000000","opacity":1},
   "encoding":{
    "x":{"datum":426.5,"type":"quantitative","axis":null},
    "y":{"field":"p","type":"quantitative","scale":{"domain":[1.051,1.1839],"range":[299,0],"nice":false,"zero":false},"axis":null}}},
  {"data":{"name":"cur"},"mark":{"type":"text","align":"center","baseline":"middle","fontSize":4.5,"font":"Liberation Sans","color":"#ffffff"},
   "encoding":{
    "x":{"datum":426.5,"type":"quantitative","axis":null},
    "y":{"field":"p","type":"quantitative","scale":{"domain":[1.051,1.1839],"range":[299,0],"nice":false,"zero":false},"axis":null},
    "text":{"field":"a"}}},
  {"data":{"name":"ttl"},"mark":{"type":"text","align":"left","baseline":"middle","fontSize":4.6,"font":"Liberation Sans","color":"#000000"},
   "encoding":{
    "x":{"datum":1,"type":"quantitative","axis":null},
    "y":{"datum":1.182,"type":"quantitative","scale":{"domain":[1.051,1.1839],"range":[299,0],"nice":false,"zero":false},"axis":null},
    "text":{"field":"t"}}}
]
}
